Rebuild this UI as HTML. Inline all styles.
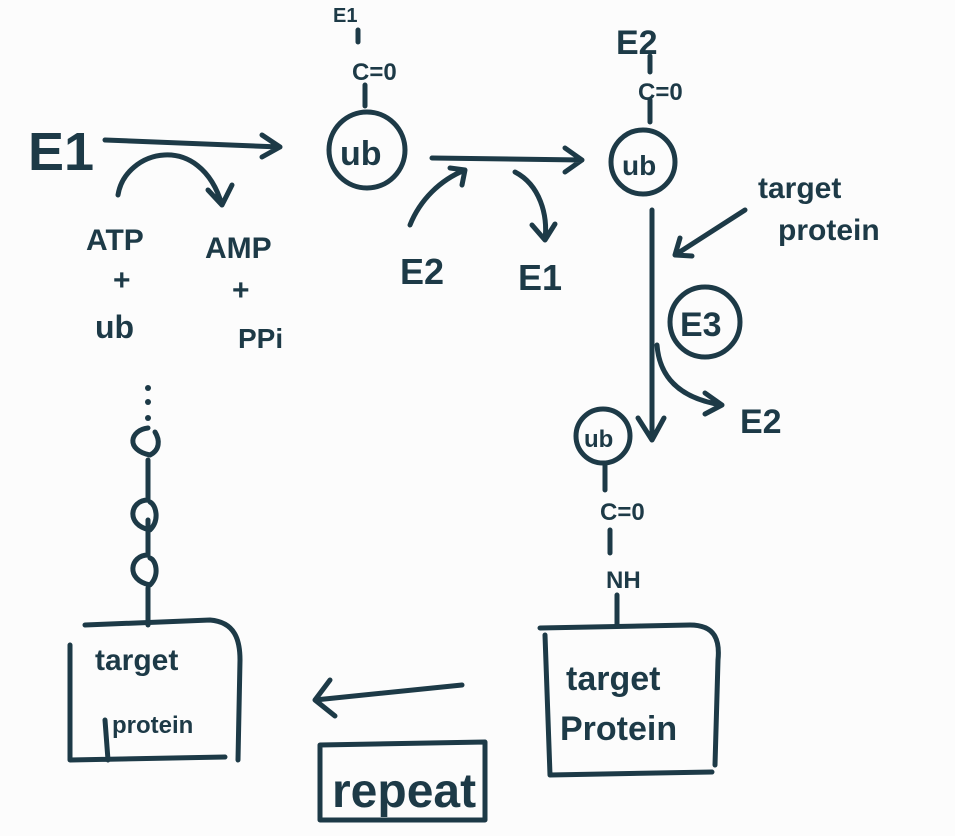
<!DOCTYPE html>
<html><head><meta charset="utf-8"><style>
html,body{margin:0;padding:0;background:#fcfcfc;}
svg{display:block}
text{font-family:"Liberation Sans",sans-serif;fill:#1d3a47;font-weight:bold}
.s{fill:none;stroke:#1d3a47;stroke-width:5;stroke-linecap:round;stroke-linejoin:round}
</style></head><body>
<svg width="955" height="836" viewBox="0 0 955 836" xmlns="http://www.w3.org/2000/svg">
<!-- E1 left -->
<text x="28" y="170" font-size="54" font-weight="normal">E1</text>
<path class="s" d="M105 140 L280 147 M262 135 L280 147 L262 157"/>
<path class="s" d="M118 195 C125 150 200 130 222 205 M208 190 L222 205 L232 185"/>
<text x="86" y="250" font-size="30">ATP</text>
<text x="113" y="290" font-size="30">+</text>
<text x="95" y="338" font-size="32">ub</text>
<text x="205" y="258" font-size="30">AMP</text>
<text x="232" y="300" font-size="30">+</text>
<text x="238" y="348" font-size="28">PPi</text>
<!-- top middle -->
<text x="333" y="22" font-size="20">E1</text>
<path class="s" d="M358 30 L358 42 M365 85 L365 106"/>
<text x="352" y="80" font-size="24">C=0</text>
<circle class="s" cx="367" cy="150" r="38"/>
<text x="340" y="165" font-size="34">ub</text>
<path class="s" d="M432 158 L582 160 M565 148 L582 160 L565 172"/>
<path class="s" d="M410 225 C420 200 440 180 465 170 M450 168 L465 170 L462 185"/>
<path class="s" d="M515 172 C540 185 548 215 545 240 M532 225 L545 240 L555 224"/>
<text x="400" y="284" font-size="36" font-weight="normal">E2</text>
<text x="518" y="290" font-size="36" font-weight="normal">E1</text>
<!-- top right -->
<text x="616" y="54" font-size="34" font-weight="normal">E2</text>
<path class="s" d="M650 56 L650 72 M650 100 L650 122"/>
<text x="638" y="100" font-size="24">C=0</text>
<circle class="s" cx="643" cy="162" r="32"/>
<text x="622" y="175" font-size="28">ub</text>
<path class="s" d="M652 210 L652 440 M638 418 L652 440 L664 418"/>
<path class="s" d="M745 210 L675 255 M680 238 L675 255 L692 256"/>
<text x="758" y="198" font-size="30" font-weight="normal">target</text>
<text x="778" y="240" font-size="30" font-weight="normal">protein</text>
<circle class="s" cx="705" cy="322" r="35"/>
<text x="680" y="336" font-size="34" font-weight="normal">E3</text>
<path class="s" d="M657 345 C660 385 690 400 722 405 M705 393 L722 405 L705 414"/>
<text x="740" y="433" font-size="34" font-weight="normal">E2</text>
<circle class="s" cx="603" cy="436" r="27"/>
<text x="584" y="447" font-size="24">ub</text>
<path class="s" d="M605 465 L605 490 M610 530 L610 553 M617 595 L617 625"/>
<text x="600" y="520" font-size="24">C=0</text>
<text x="606" y="588" font-size="24">NH</text>
<path class="s" d="M540 628 L690 625 C715 625 720 640 718 660 L715 765 M545 635 L550 775 L712 772"/>
<text x="566" y="690" font-size="34" font-weight="normal">target</text>
<text x="560" y="740" font-size="34" font-weight="normal">Protein</text>
<!-- left chain -->
<circle cx="148" cy="388" r="3" fill="#1d3a47"/><circle cx="148" cy="402" r="3" fill="#1d3a47"/><circle cx="148" cy="418" r="3" fill="#1d3a47"/>
<path class="s" d="M148 428 C130 430 125 450 150 455 C160 450 160 440 155 432"/>
<path class="s" d="M148 460 L148 500 M148 500 C130 500 125 525 150 530 C160 520 156 505 150 502"/>
<path class="s" d="M148 520 L148 555 M148 555 C130 555 125 580 150 585 C160 575 156 560 150 558"/>
<path class="s" d="M148 588 L148 625"/>
<path class="s" d="M85 625 L210 620 C235 622 240 640 240 660 L238 760 M70 645 L70 760 L225 757 M105 720 L108 760"/>
<text x="95" y="670" font-size="30" font-weight="normal">target</text>
<text x="112" y="733" font-size="24" font-weight="normal">protein</text>
<path class="s" d="M462 685 L315 700 M330 680 L315 700 L335 716"/>
<path class="s" d="M320 745 L485 742 L485 820 L320 820 Z"/>
<text x="332" y="807" font-size="48" font-weight="normal">repeat</text>
</svg>
</body></html>
